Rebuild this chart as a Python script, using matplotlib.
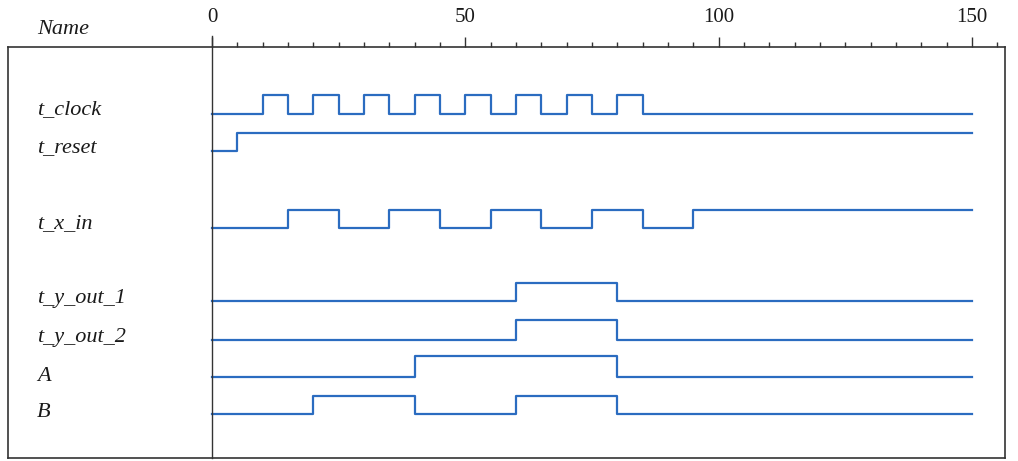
import matplotlib.pyplot as plt
import numpy as np

# signal names and their transitions: (times, levels), levels held until next time
names = ["t_clock", "t_reset", "t_x_in", "t_y_out_1", "t_y_out_2", "A", "B"]

clock_t = [0, 10, 15, 20, 25, 30, 35, 40, 45, 50, 55, 60, 65, 70, 75, 80, 85, 150]
clock_v = [0, 1, 0, 1, 0, 1, 0, 1, 0, 1, 0, 1, 0, 1, 0, 1, 0, 0]
reset_t = [0, 5, 150]
reset_v = [0, 1, 1]
x_in_t = [0, 15, 25, 35, 45, 55, 65, 75, 85, 95, 150]
x_in_v = [0, 1, 0, 1, 0, 1, 0, 1, 0, 1, 1]
y_out_1_t = [0, 60, 80, 150]
y_out_1_v = [0, 1, 0, 0]
y_out_2_t = [0, 60, 80, 150]
y_out_2_v = [0, 1, 0, 0]
a_t = [0, 40, 80, 150]
a_v = [0, 1, 0, 0]
b_t = [0, 20, 40, 60, 80, 150]
b_v = [0, 1, 0, 1, 0, 0]

signals = [(clock_t, clock_v), (reset_t, reset_v), (x_in_t, x_in_v),
           (y_out_1_t, y_out_1_v), (y_out_2_t, y_out_2_v), (a_t, a_v), (b_t, b_v)]

tick_labels = [0, 50, 100, 150]

# layout in pixels (y down)
base_y = [114, 151, 228, 301, 340, 377, 414]
high = [19, 18, 18, 18, 20, 21, 18]
label_y = [110, 148, 224, 298, 337, 376, 412]

x0_px, px_per = 212, 5.067
W, H = 1018, 461

def tx(px):
    return (px - x0_px) / px_per

fig = plt.figure(figsize=(W / 100, H / 100), dpi=100)
ax = fig.add_axes([0, 0, 1, 1])
ax.set_xlim(tx(0), tx(W))
ax.set_ylim(H, 0)
ax.axis("off")

blue = "#2b6cc0"
serif = ["Liberation Serif", "DejaVu Serif"]

for (t, v), b, h in zip(signals, base_y, high):
    y = [b - h * vv for vv in v]
    ax.step(t, y, where="post", color=blue, lw=1.6)

for n, ly in zip(names, label_y):
    ax.text(tx(37), ly, n, fontsize=16, fontstyle="italic", family=serif,
            ha="left", va="center", color="#1a1a1a")
ax.text(tx(37), 30, "Name", fontsize=16, fontstyle="italic", family=serif,
        ha="left", va="center", color="#1a1a1a")

# frame
k = "#333333"
ax.plot([tx(8), tx(1005)], [47, 47], color=k, lw=1.2)
ax.plot([tx(8), tx(8)], [47, 458], color=k, lw=1.2)
ax.plot([tx(1005), tx(1005)], [47, 458], color=k, lw=1.2)
ax.plot([tx(8), tx(1005)], [458, 458], color=k, lw=1.2)
ax.plot([0, 0], [36, 458], color=k, lw=1.0)

# time ruler
ticks = np.arange(0, 160, 5)
minor = [t for t in ticks if t % 50 != 0]
major = [t for t in ticks if t % 50 == 0]
ax.vlines(minor, 42, 47, color=k, lw=1.0)
ax.vlines(major, 37, 47, color=k, lw=1.0)
for t in tick_labels:
    ax.text(t, 18, str(t), fontsize=15, family=serif, ha="center", va="center",
            color="#1a1a1a")

fig.savefig("out.png", dpi=100)
